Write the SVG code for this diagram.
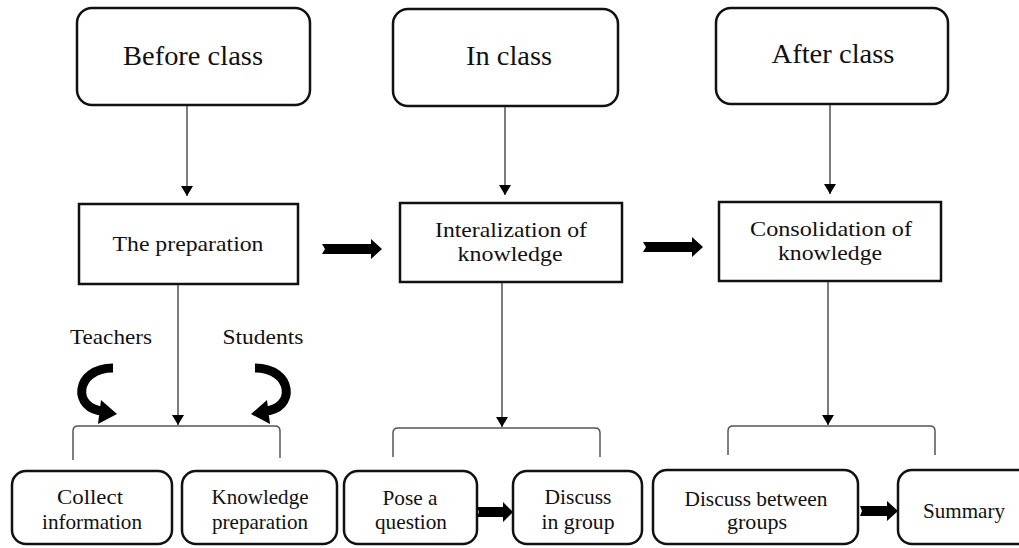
<svg xmlns="http://www.w3.org/2000/svg" width="1019" height="548" viewBox="0 0 1019 548">
<style>
.rbox{fill:#fff;stroke:#111;stroke-width:2.5}
.sbox{fill:#fff;stroke:#111;stroke-width:2.5}
.t{font-family:"Liberation Serif","Times New Roman",serif;fill:#111;text-anchor:middle}
.big{font-size:27px}
.mid{font-size:22px}
.sm{font-size:21px}
.ln{fill:none;stroke:#444;stroke-width:1.4}
.br{fill:none;stroke:#555;stroke-width:1.5}
.blk{fill:#000}
.curve{fill:none;stroke:#000;stroke-width:9}
</style>
<defs>
<marker id="ah" viewBox="0 0 10 12" refX="10" refY="6" markerWidth="10" markerHeight="12" markerUnits="userSpaceOnUse" orient="auto">
<path d="M0,0 L10,6 L0,12 Z" fill="#000"/>
</marker>
<g id="curv">
<path class="curve" d="M113,368 C74,368 72,410 104,411"/>
<polygon class="blk" points="117,414 101,400 98,424"/>
</g>
</defs>

<g id="n-before"><rect class="rbox" x="77" y="8" width="233" height="97" rx="15"/><text class="t big" x="193" y="65" textLength="140" lengthAdjust="spacingAndGlyphs">Before class</text></g>
<g id="n-in"><rect class="rbox" x="393" y="9" width="225" height="97" rx="15"/><text class="t big" x="509" y="65" textLength="86" lengthAdjust="spacingAndGlyphs">In class</text></g>
<g id="n-after"><rect class="rbox" x="716" y="8" width="232" height="96" rx="15"/><text class="t big" x="833" y="63" textLength="123" lengthAdjust="spacingAndGlyphs">After class</text></g>

<g id="n-prep"><rect class="sbox" x="79" y="204" width="219" height="80"/><text class="t mid" x="188" y="251" textLength="151" lengthAdjust="spacingAndGlyphs">The preparation</text></g>
<g id="n-inter"><rect class="sbox" x="400" y="203" width="222" height="79"/><text class="t mid" x="511" y="237" textLength="152" lengthAdjust="spacingAndGlyphs">Interalization of</text><text class="t mid" x="510" y="261" textLength="105" lengthAdjust="spacingAndGlyphs">knowledge</text></g>
<g id="n-cons"><rect class="sbox" x="719" y="202" width="222" height="79"/><text class="t mid" x="831" y="236" textLength="162" lengthAdjust="spacingAndGlyphs">Consolidation of</text><text class="t mid" x="830" y="260" textLength="104" lengthAdjust="spacingAndGlyphs">knowledge</text></g>

<g id="n-teachers"><text class="t mid" x="111" y="344" textLength="82" lengthAdjust="spacingAndGlyphs">Teachers</text></g>
<g id="n-students"><text class="t mid" x="263" y="344" textLength="81" lengthAdjust="spacingAndGlyphs">Students</text></g>

<g id="n-collect"><rect class="rbox" x="12" y="471" width="160" height="73" rx="14"/><text class="t sm" x="90" y="504" textLength="66" lengthAdjust="spacingAndGlyphs">Collect</text><text class="t sm" x="92" y="529" textLength="100" lengthAdjust="spacingAndGlyphs">information</text></g>
<g id="n-knowprep"><rect class="rbox" x="182" y="471" width="155" height="73" rx="14"/><text class="t sm" x="260" y="504" textLength="97" lengthAdjust="spacingAndGlyphs">Knowledge</text><text class="t sm" x="260" y="529" textLength="96" lengthAdjust="spacingAndGlyphs">preparation</text></g>
<g id="n-pose"><rect class="rbox" x="344" y="471" width="133" height="73" rx="14"/><text class="t sm" x="410" y="505" textLength="55" lengthAdjust="spacingAndGlyphs">Pose a</text><text class="t sm" x="411" y="529" textLength="72" lengthAdjust="spacingAndGlyphs">question</text></g>
<g id="n-discuss"><rect class="rbox" x="513" y="471" width="129" height="73" rx="14"/><text class="t sm" x="578" y="504" textLength="67" lengthAdjust="spacingAndGlyphs">Discuss</text><text class="t sm" x="578" y="529" textLength="73" lengthAdjust="spacingAndGlyphs">in group</text></g>
<g id="n-between"><rect class="rbox" x="653" y="470" width="205" height="74" rx="14"/><text class="t sm" x="756" y="506" textLength="143" lengthAdjust="spacingAndGlyphs">Discuss between</text><text class="t sm" x="757" y="529" textLength="60" lengthAdjust="spacingAndGlyphs">groups</text></g>
<g id="n-summary"><rect class="rbox" x="898" y="470" width="140" height="74" rx="14"/><text class="t sm" x="964" y="518" textLength="82" lengthAdjust="spacingAndGlyphs">Summary</text></g>

<g id="connectors">
<line class="ln" x1="187" y1="106" x2="187" y2="196" marker-end="url(#ah)"/>
<line class="ln" x1="505" y1="107" x2="505" y2="195" marker-end="url(#ah)"/>
<line class="ln" x1="830" y1="105" x2="830" y2="194" marker-end="url(#ah)"/>
<line class="ln" x1="178" y1="285" x2="178" y2="425" marker-end="url(#ah)"/>
<line class="ln" x1="502" y1="283" x2="502" y2="427" marker-end="url(#ah)"/>
<line class="ln" x1="828" y1="282" x2="828" y2="425" marker-end="url(#ah)"/>
<path class="br" d="M73,460 V431 Q73,426 78,426 H275 Q280,426 280,431 V458"/>
<path class="br" d="M393,457 V433 Q393,428 398,428 H595 Q600,428 600,433 V457"/>
<path class="br" d="M728,455 V431 Q728,426 733,426 H930 Q935,426 935,431 V455"/>
<polygon class="blk" points="322,244 371,244 371,239 382,249 371,259 371,254 322,254 325,249"/>
<polygon class="blk" points="643,242 692,242 692,237 703,247 692,257 692,252 643,252 646,247"/>
<polygon class="blk" points="477,507 503,507 503,502 513,512 503,522 503,517 477,517 479,512"/>
<polygon class="blk" points="860,506 887,506 887,501 898,511 887,521 887,516 860,516 862,511"/>
<use href="#curv"/>
<use href="#curv" transform="translate(368,0) scale(-1,1)"/>
</g>
</svg>
